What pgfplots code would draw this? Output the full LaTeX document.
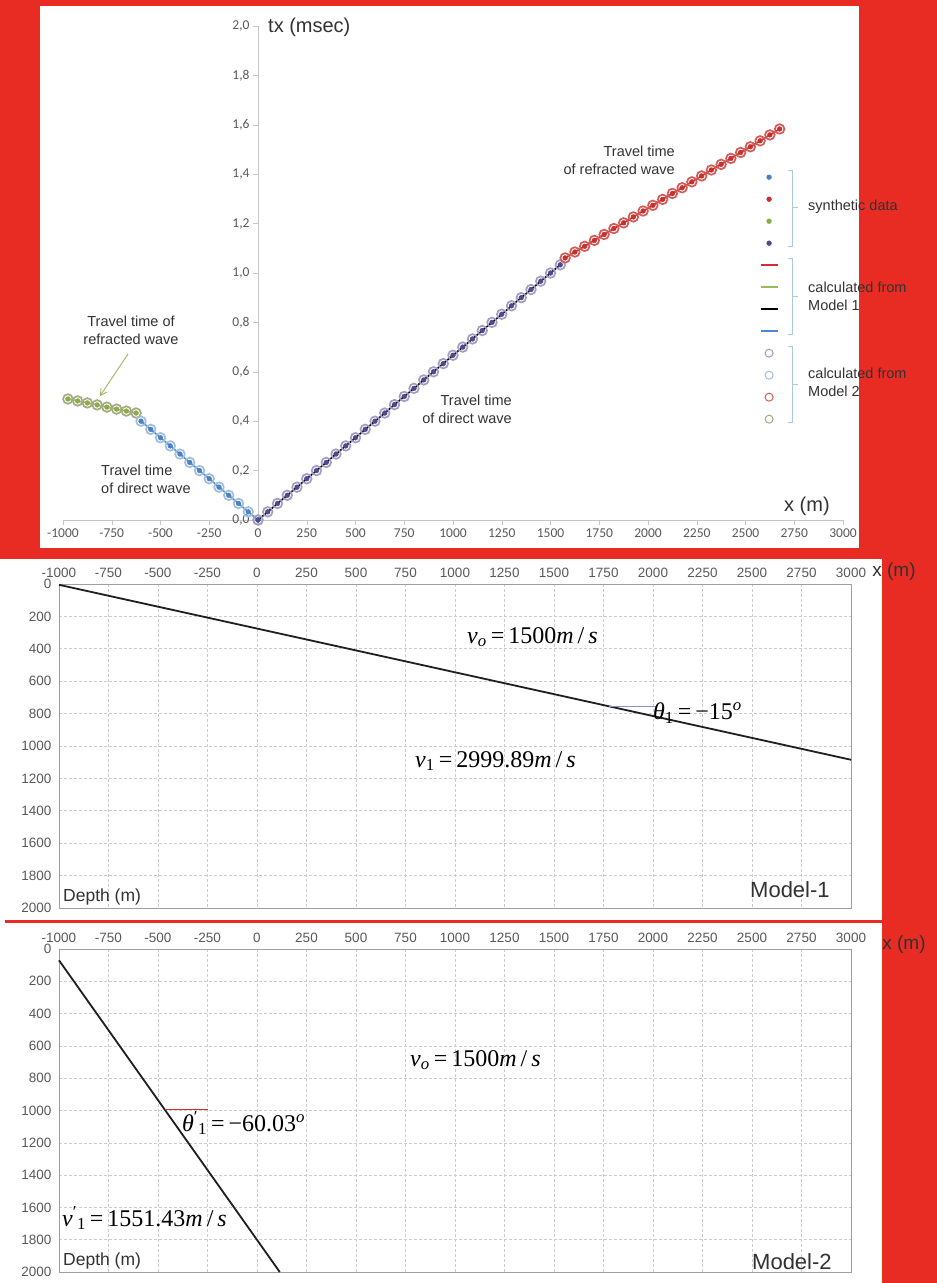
\documentclass[border=0pt]{standalone}
\usepackage{fontspec}
\setmainfont{Liberation Sans}
\newfontfamily\carlito{Carlito}
\newfontfamily\tnr{Liberation Serif}
\usepackage{pgfplots}
\pgfplotsset{compat=1.18}
\usepackage{pgfplotstable}
\usetikzlibrary{arrows.meta}

\definecolor{redbg}{RGB}{232,44,36}
\definecolor{tickgray}{RGB}{89,89,89}
\definecolor{txtgray}{RGB}{50,50,50}
\definecolor{dblue}{RGB}{79,129,189}
\definecolor{dred}{RGB}{200,48,48}
\definecolor{dgreen}{RGB}{140,172,70}
\definecolor{dpurple}{RGB}{78,74,140}
\definecolor{lblue}{RGB}{72,140,205}
\definecolor{lred}{RGB}{212,45,45}
\definecolor{lgreen}{RGB}{155,187,89}
\definecolor{cpurple}{RGB}{165,155,195}
\definecolor{cblue}{RGB}{160,190,226}
\definecolor{cred}{RGB}{214,90,85}
\definecolor{cgrey}{RGB}{165,170,130}
\definecolor{brk}{RGB}{170,200,225}
\definecolor{arrowgreen}{RGB}{160,178,100}

\newcommand\eqfont{\tnr\fontsize{24}{24}\selectfont}

% synthetic travel times, x in m, t in the units of the axis
\pgfplotstableread{
x t
-975 0.490
-925 0.482
-875 0.474
-825 0.466
-775 0.457
-725 0.449
-675 0.441
-625 0.433
}\leftrefr
\pgfplotstableread{
x t
-600 0.400
-550 0.367
-500 0.333
-450 0.300
-400 0.267
-350 0.233
-300 0.200
-250 0.167
-200 0.133
-150 0.100
-100 0.067
-50 0.033
0 0.000
}\leftdirect
\pgfplotstableread{
x t
0 0.000
50 0.033
100 0.067
150 0.100
200 0.133
250 0.167
300 0.200
350 0.233
400 0.267
450 0.300
500 0.333
550 0.367
600 0.400
650 0.433
700 0.467
750 0.500
800 0.533
850 0.567
900 0.600
950 0.633
1000 0.667
1050 0.700
1100 0.733
1150 0.767
1200 0.800
1250 0.833
1300 0.867
1350 0.900
1400 0.933
1450 0.967
1500 1.000
1550 1.033
}\rightdirect
\pgfplotstableread{
x t
1575 1.061
1625 1.085
1675 1.108
1725 1.132
1775 1.156
1825 1.180
1875 1.203
1925 1.227
1975 1.251
2025 1.274
2075 1.298
2125 1.322
2175 1.345
2225 1.369
2275 1.393
2325 1.417
2375 1.440
2425 1.464
2475 1.488
2525 1.511
2575 1.535
2625 1.559
2675 1.583
}\rightrefr

\pgfplotsset{
  model2/.style={only marks, mark=o, mark size=4.8pt, line width=1.7pt},
  model1/.style={line width=1.6pt},
  synth/.style={only marks, mark=*, mark size=2.4pt},
  depthpanel/.style={
    anchor=south west, scale only axis, width=792pt,
    xmin=-1000, xmax=3000, ymin=0, ymax=2000, y dir=reverse,
    xtick={-1000,-750,...,3000}, ytick={0,200,...,2000},
    xticklabel pos=upper, grid=major,
    grid style={dash pattern=on 3pt off 2pt, gray!40, line width=0.6pt},
    major tick length=0pt, axis line style={gray!75, line width=0.8pt},
    /pgf/number format/assume math mode=true,
    /pgf/number format/1000 sep={},
    tick label style={font=\fontsize{13.5}{13.5}\selectfont, text=tickgray},
    x tick label style={yshift=3pt},
    y tick label style={xshift=-4pt},
    clip=false,
  },
}

\begin{document}
\begin{tikzpicture}
\useasboundingbox (0,0) rectangle (937pt,1283pt);
% page background and panels
\fill[redbg] (0,0) rectangle (937pt,1283pt);
\fill[white] (40pt,735pt) rectangle (859pt,1277pt);
\fill[white] (0,363pt) rectangle (882pt,724pt);
\fill[white] (0,0) rectangle (882pt,360pt);
\fill[white] (0,360pt) rectangle (5pt,363pt);

% ---------------- travel time curves ----------------
\begin{axis}[
  at={(63pt,763pt)}, anchor=south west, scale only axis,
  width=780pt, height=494pt,
  xmin=-1000, xmax=3000, ymin=0, ymax=2,
  axis lines=middle, axis line style={-, gray!45, line width=0.8pt},
  xtick={-1000,-750,...,3000},
  ytick={0,0.2,0.4,0.6,0.8,1,1.2,1.4,1.6,1.8,2},
  hide obscured x ticks=false, hide obscured y ticks=false,
  tick align=outside, major tick length=5pt, tick style={gray!45},
  /pgf/number format/assume math mode=true,
  tick label style={font=\carlito\fontsize{13.5}{13.5}\selectfont, text=tickgray},
  x tick label style={/pgf/number format/.cd, fixed, precision=0, 1000 sep={}},
  y tick label style={/pgf/number format/.cd, fixed, fixed zerofill, precision=1, use comma, 1000 sep={}},
  clip=false,
  legend style={at={(0.8929,0.7166)}, anchor=north west, draw=none, fill=none,
    inner sep=0pt, row sep=0pt, column sep=0pt,
    nodes={inner sep=0pt, minimum height=22pt, text width=0pt}},
]
% calculated from Model 2
\addplot[forget plot, model2, cgrey] table {\leftrefr};
\addplot[forget plot, model2, cblue] table {\leftdirect};
\addplot[forget plot, model2, cpurple] table {\rightdirect};
\addplot[forget plot, model2, cred] table {\rightrefr};
% calculated from Model 1
\addplot[forget plot, model1, lgreen] table {\leftrefr};
\addplot[forget plot, model1, lblue] table {\leftdirect};
\addplot[forget plot, model1, black] table {\rightdirect};
\addplot[forget plot, model1, lred] table {\rightrefr};
% synthetic data
\addplot[forget plot, synth, dgreen] table {\leftrefr};
\addplot[forget plot, synth, dblue] table {\leftdirect};
\addplot[forget plot, synth, dpurple] table {\rightdirect};
\addplot[forget plot, synth, dred] table {\rightrefr};
% legend swatches
\addlegendimage{synth, dblue}\addlegendentry{\phantom{x}}
\addlegendimage{synth, dred}\addlegendentry{\phantom{x}}
\addlegendimage{synth, dgreen}\addlegendentry{\phantom{x}}
\addlegendimage{synth, dpurple}\addlegendentry{\phantom{x}}
\addlegendimage{line width=1.8pt, lred}\addlegendentry{\phantom{x}}
\addlegendimage{line width=1.8pt, lgreen}\addlegendentry{\phantom{x}}
\addlegendimage{line width=1.8pt, black}\addlegendentry{\phantom{x}}
\addlegendimage{line width=1.8pt, lblue}\addlegendentry{\phantom{x}}
\addlegendimage{only marks, mark=o, mark size=4pt, line width=1pt, cpurple}\addlegendentry{\phantom{x}}
\addlegendimage{only marks, mark=o, mark size=4pt, line width=1pt, cblue}\addlegendentry{\phantom{x}}
\addlegendimage{only marks, mark=o, mark size=4pt, line width=1pt, cred}\addlegendentry{\phantom{x}}
\addlegendimage{only marks, mark=o, mark size=4pt, line width=1pt, cgrey}\addlegendentry{\phantom{x}}
\end{axis}

% legend brackets and captions
\begin{scope}[brk, line width=0.8pt]
\draw (788pt,1113pt) -- (792pt,1113pt) -- (792pt,1037pt) -- (788pt,1037pt);
\draw (792pt,1076pt) -- (798pt,1076pt);
\draw (788pt,1025pt) -- (792pt,1025pt) -- (792pt,949pt) -- (788pt,949pt);
\draw (792pt,987pt) -- (798pt,987pt);
\draw (788pt,937pt) -- (792pt,937pt) -- (792pt,861pt) -- (788pt,861pt);
\draw (792pt,899pt) -- (798pt,899pt);
\end{scope}
\begin{scope}[every node/.style={text=txtgray, font=\fontsize{14.5}{18}\selectfont, inner sep=0pt}]
\node[anchor=west] at (808pt,1076pt) {synthetic data};
\node[anchor=west, align=left] at (808pt,987pt) {calculated from\\Model 1};
\node[anchor=west, align=left] at (808pt,901pt) {calculated from\\Model 2};
\node[anchor=east, align=right] at (675pt,1123pt) {Travel time\\of refracted wave};
\node[anchor=east, align=right] at (512pt,874pt) {Travel time\\of direct wave};
\node[anchor=west, align=left] at (101pt,804pt) {Travel time\\of direct wave};
\node[align=center] at (131pt,953pt) {Travel time of\\refracted wave};
\end{scope}
\draw[arrowgreen, line width=0.9pt, -{Straight Barb[length=6pt, width=7pt]}] (128pt,929pt) -- (100pt,887pt);
\node[anchor=west, inner sep=0pt, text=txtgray, font=\fontsize{20}{20}\selectfont] at (268pt,1256pt) {tx (msec)};
\node[anchor=west, inner sep=0pt, text=txtgray, font=\fontsize{20}{20}\selectfont] at (784pt,777pt) {x (m)};

% ---------------- Model 1 ----------------
\begin{axis}[depthpanel, at={(59pt,375pt)}, height=324pt]
\addplot[black!88, line width=1.8pt] coordinates {(-1000,5) (3000,1085)};
\addplot[color={rgb,255:red,125;green,150;blue,200}, line width=0.8pt] coordinates {(1780,755) (2020,755)};
\end{axis}
\node[inner sep=0pt, text=txtgray, font=\fontsize{19}{19}\selectfont] at (894pt,711pt) {x (m)};
\node[anchor=west, inner sep=0pt, text=txtgray, font=\fontsize{17.5}{17.5}\selectfont] at (63pt,386pt) {Depth (m)};
\node[anchor=west, inner sep=0pt, text=txtgray, font=\fontsize{22}{22}\selectfont] at (750pt,393pt) {Model-1};
\node[anchor=west, inner sep=0pt] at (467pt,646pt) {\eqfont\itshape v\textsubscript{o}\upshape\,=\,1500\itshape m\upshape\,/\,\itshape s};
\node[anchor=west, inner sep=0pt] at (653pt,570pt) {\eqfont\itshape θ\textsubscript{\upshape 1}\upshape\,=\,−15\textsuperscript{\itshape o}};
\node[anchor=west, inner sep=0pt] at (415pt,522pt) {\eqfont\itshape v\textsubscript{\upshape 1}\upshape\,=\,2999.89\itshape m\upshape\,/\,\itshape s};

% ---------------- Model 2 ----------------
\fill[redbg] (5pt,360pt) rectangle (882pt,363pt);
\begin{axis}[depthpanel, at={(59pt,11pt)}, height=323pt]
\addplot[black!88, line width=1.8pt] coordinates {(-1000,70) (115,2000)};
\addplot[color=lred, line width=1pt] coordinates {(-466,995) (-245,995)};
\end{axis}
\node[inner sep=0pt, text=txtgray, font=\fontsize{19}{19}\selectfont] at (904pt,338pt) {x (m)};
\node[anchor=west, inner sep=0pt, text=txtgray, font=\fontsize{17.5}{17.5}\selectfont] at (63pt,22pt) {Depth (m)};
\node[anchor=west, inner sep=0pt, text=txtgray, font=\fontsize{22}{22}\selectfont] at (752pt,21pt) {Model-2};
\node[anchor=west, inner sep=0pt] at (410pt,223pt) {\eqfont\itshape v\textsubscript{o}\upshape\,=\,1500\itshape m\upshape\,/\,\itshape s};
\node[anchor=west, inner sep=0pt] at (182pt,160pt) {\eqfont\itshape θ\textsuperscript{\upshape ′}\textsubscript{\upshape 1}\upshape\,=\,−60.03\textsuperscript{\itshape o}};
\node[anchor=west, inner sep=0pt] at (62pt,65pt) {\eqfont\itshape v\textsuperscript{\upshape ′}\textsubscript{\upshape 1}\upshape\,=\,1551.43\itshape m\upshape\,/\,\itshape s};
\end{tikzpicture}
\end{document}
